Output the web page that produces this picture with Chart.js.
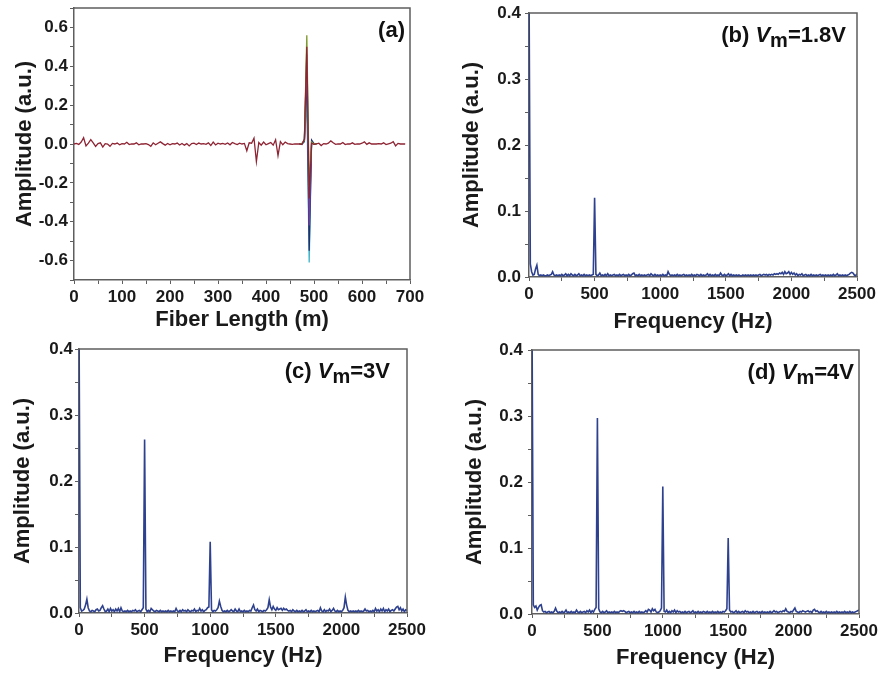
<!DOCTYPE html>
<html>
<head>
<meta charset="utf-8">
<script src="https://cdn.jsdelivr.net/npm/chart.js@4.4.1/dist/chart.umd.min.js"></script>
<style>
  body { margin: 0; background: #fff; }
  .panel { position: absolute; }
  #pa { left: 0; top: 0; width: 441px; height: 336px; }
  #pb { left: 441px; top: 0; width: 441px; height: 336px; }
  #pc { left: 0; top: 336px; width: 441px; height: 337px; }
  #pd { left: 441px; top: 336px; width: 441px; height: 337px; }
</style>
</head>
<body>
<div class="panel" id="pa"><canvas id="chart-a"></canvas></div>
<div class="panel" id="pb"><canvas id="chart-b"></canvas></div>
<div class="panel" id="pc"><canvas id="chart-c"></canvas></div>
<div class="panel" id="pd"><canvas id="chart-d"></canvas></div>
<script>
// (a) OTDR trace, 5 m step from 0 to 690 m
const lengthStep = 5;
const traceMain = [
  0, 0.003, -0.002, 0.01, 0.032, -0.01, 0.004, 0.022, 0.006, -0.012,
  0.002, 0.006, -0.016, 0.002, 0, -0.012, 0.003, 0, 0.005, -0.004,
  0.002, 0, 0.009, -0.003, 0.001, 0, 0.006, -0.004, 0.001, 0,
  0.002, -0.003, -0.012, 0.006, -0.004, 0.004, 0.011, 0.002, -0.006, 0.003,
  -0.004, 0.002, 0, 0.005, -0.005, 0.003, -0.006, 0.002, -0.01, 0.002,
  0.004, -0.003, 0.005, 0, 0.002, -0.002, 0.006, -0.008, 0.01, -0.005,
  0.004, 0, 0.003, -0.002, 0.005, -0.004, 0.008, 0.002, -0.003, 0.004,
  0, 0.003, -0.035, 0.006, 0.004, 0.03, -0.09, 0.008, -0.006, 0.01,
  -0.004, 0.002, 0.008, -0.006, 0.022, -0.06, 0.012, -0.004, 0.01, 0.002,
  0, -0.002, 0.001, 0, 0.001, -0.002, 0.025, 0.5, -0.28, 0.004,
  -0.002, 0.001, 0.004, -0.008, 0.002, 0, 0.004, 0.016, 0.006, -0.002,
  0.001, 0, 0.008, -0.003, 0.001, 0, 0.006, -0.002, 0.001, 0,
  0.004, 0.011, -0.002, 0.006, 0, 0.001, 0, 0.002, 0, 0.006,
  -0.003, 0.001, 0.004, 0.012, -0.01, 0.003, 0, 0.001, 0
];
// other overlaid traces around the reflection peak
const peakLength = [470, 475, 480, 485, 490, 495, 500, 505];
const traceGreen = [0.001, 0.003, 0.02, 0.56, -0.22, 0.01, 0, 0.002];
const tracePurple = [0, 0.002, 0.02, 0.46, -0.42, 0.01, 0, 0.001];
const traceBlue = [0, 0.002, 0.015, 0.38, -0.55, 0.02, 0.002, 0];
const traceCyan = [0, -0.002, 0.01, 0.24, -0.61, 0.015, 0, 0];

// (b)-(d) spectra, 10 Hz step from 0 to 2500 Hz
const freqStep = 10;
const spectrum18V = [
  0.45, 0.02, 0.008, 0.003, 0.004, 0.012, 0.018, 0.004, 0.002, 0.003,
  0.002, 0.003, 0.002, 0.002, 0.003, 0.002, 0.003, 0.004, 0.008, 0.003,
  0.002, 0.003, 0.002, 0.003, 0.002, 0.004, 0.002, 0.003, 0.005, 0.002,
  0.004, 0.002, 0.005, 0.003, 0.002, 0.004, 0.002, 0.003, 0.005, 0.002,
  0.003, 0.002, 0.004, 0.002, 0.003, 0.002, 0.003, 0.002, 0.003, 0.004,
  0.12, 0.004, 0.002, 0.003, 0.006, 0.002, 0.003, 0.002, 0.004, 0.002,
  0.005, 0.002, 0.003, 0.002, 0.003, 0.004, 0.002, 0.003, 0.002, 0.004,
  0.002, 0.003, 0.004, 0.002, 0.003, 0.002, 0.004, 0.002, 0.003, 0.005,
  0.006, 0.002, 0.003, 0.002, 0.004, 0.002, 0.003, 0.002, 0.003, 0.002,
  0.003, 0.004, 0.002, 0.005, 0.003, 0.002, 0.004, 0.002, 0.003, 0.002,
  0.003, 0.002, 0.004, 0.002, 0.003, 0.002, 0.008, 0.004, 0.002, 0.003,
  0.002, 0.003, 0.002, 0.004, 0.002, 0.003, 0.002, 0.003, 0.004, 0.002,
  0.003, 0.002, 0.003, 0.002, 0.004, 0.002, 0.003, 0.002, 0.004, 0.003,
  0.002, 0.004, 0.002, 0.003, 0.002, 0.003, 0.005, 0.002, 0.004, 0.002,
  0.003, 0.002, 0.004, 0.002, 0.003, 0.002, 0.006, 0.003, 0.002, 0.004,
  0.002, 0.003, 0.005, 0.002, 0.004, 0.002, 0.003, 0.002, 0.003, 0.002,
  0.003, 0.002, 0.002, 0.003, 0.002, 0.003, 0.002, 0.003, 0.002, 0.003,
  0.002, 0.003, 0.002, 0.003, 0.002, 0.003, 0.004, 0.002, 0.003, 0.004,
  0.003, 0.004, 0.002, 0.004, 0.003, 0.004, 0.003, 0.005, 0.004, 0.005,
  0.004, 0.006, 0.005, 0.007, 0.004, 0.008, 0.005, 0.006, 0.008, 0.004,
  0.007, 0.004, 0.006, 0.003, 0.005, 0.002, 0.004, 0.003, 0.005, 0.002,
  0.003, 0.004, 0.002, 0.003, 0.002, 0.004, 0.002, 0.003, 0.002, 0.003,
  0.002, 0.003, 0.004, 0.002, 0.003, 0.002, 0.003, 0.002, 0.003, 0.002,
  0.003, 0.002, 0.004, 0.002, 0.003, 0.005, 0.002, 0.003, 0.002, 0.003,
  0.002, 0.003, 0.002, 0.003, 0.004, 0.006, 0.007, 0.006, 0.003, 0.002,
  0.005
];
const spectrum3V = [
  0.45, 0.008, 0.003, 0.004, 0.006, 0.012, 0.021, 0.008, 0.003, 0.002,
  0.004, 0.003, 0.002, 0.005, 0.006, 0.003, 0.004, 0.008, 0.011, 0.006,
  0.002, 0.003, 0.006, 0.002, 0.007, 0.003, 0.005, 0.002, 0.006, 0.003,
  0.007, 0.002, 0.008, 0.003, 0.002, 0.003, 0.002, 0.004, 0.002, 0.003,
  0.002, 0.004, 0.003, 0.005, 0.002, 0.003, 0.004, 0.002, 0.005, 0.008,
  0.263, 0.006, 0.002, 0.004, 0.002, 0.007, 0.005, 0.003, 0.002, 0.004,
  0.003, 0.002, 0.004, 0.002, 0.003, 0.002, 0.003, 0.002, 0.004, 0.002,
  0.003, 0.002, 0.003, 0.002, 0.007, 0.003, 0.002, 0.004, 0.002, 0.005,
  0.003, 0.004, 0.002, 0.005, 0.003, 0.002, 0.004, 0.003, 0.006, 0.002,
  0.004, 0.003, 0.007, 0.003, 0.005, 0.002, 0.004, 0.005, 0.008, 0.009,
  0.108, 0.005, 0.002, 0.004, 0.003, 0.005, 0.008, 0.018, 0.01, 0.004,
  0.002, 0.003, 0.002, 0.004, 0.002, 0.003, 0.005, 0.003, 0.002, 0.006,
  0.003, 0.002, 0.006, 0.002, 0.003, 0.002, 0.004, 0.002, 0.003, 0.002,
  0.004, 0.003, 0.008, 0.012, 0.005, 0.003, 0.006, 0.002, 0.004, 0.003,
  0.002, 0.004, 0.003, 0.005, 0.008, 0.02, 0.009, 0.005, 0.01, 0.006,
  0.004, 0.008, 0.005, 0.006, 0.007, 0.004, 0.007, 0.005, 0.006, 0.004,
  0.003, 0.004, 0.002, 0.005, 0.003, 0.002, 0.004, 0.002, 0.003, 0.002,
  0.004, 0.002, 0.003, 0.005, 0.002, 0.003, 0.002, 0.004, 0.002, 0.003,
  0.002, 0.003, 0.004, 0.002, 0.008, 0.003, 0.002, 0.005, 0.002, 0.004,
  0.003, 0.006, 0.002, 0.004, 0.007, 0.003, 0.002, 0.004, 0.002, 0.003,
  0.002, 0.004, 0.008, 0.024, 0.012, 0.004, 0.002, 0.003, 0.002, 0.003,
  0.002, 0.003, 0.002, 0.004, 0.002, 0.003, 0.002, 0.003, 0.006, 0.003,
  0.004, 0.002, 0.003, 0.002, 0.004, 0.002, 0.007, 0.003, 0.005, 0.002,
  0.006, 0.003, 0.007, 0.002, 0.005, 0.003, 0.006, 0.002, 0.004, 0.005,
  0.003, 0.006, 0.009, 0.01, 0.005, 0.008, 0.003, 0.006, 0.002, 0.005,
  0.004
];
const spectrum4V = [
  0.45, 0.014, 0.01, 0.012, 0.006, 0.01, 0.013, 0.014, 0.005, 0.003,
  0.004, 0.002, 0.003, 0.004, 0.002, 0.003, 0.002, 0.004, 0.009, 0.004,
  0.002, 0.003, 0.002, 0.004, 0.002, 0.003, 0.006, 0.002, 0.003, 0.002,
  0.004, 0.002, 0.003, 0.002, 0.006, 0.003, 0.002, 0.004, 0.002, 0.003,
  0.004, 0.002, 0.005, 0.003, 0.006, 0.002, 0.005, 0.003, 0.007, 0.01,
  0.297, 0.008, 0.003, 0.002, 0.004, 0.002, 0.003, 0.005, 0.002, 0.003,
  0.002, 0.003, 0.002, 0.004, 0.002, 0.003, 0.002, 0.004, 0.005, 0.004,
  0.005, 0.004, 0.002, 0.003, 0.004, 0.002, 0.003, 0.002, 0.004, 0.002,
  0.003, 0.002, 0.004, 0.002, 0.003, 0.002, 0.003, 0.005, 0.003, 0.007,
  0.006, 0.003, 0.008, 0.005, 0.007, 0.003, 0.002, 0.003, 0.005, 0.009,
  0.193, 0.004, 0.003, 0.006, 0.002, 0.004, 0.002, 0.005, 0.003, 0.006,
  0.002, 0.005, 0.003, 0.004, 0.002, 0.003, 0.002, 0.004, 0.002, 0.003,
  0.004, 0.002, 0.003, 0.005, 0.002, 0.003, 0.002, 0.004, 0.002, 0.003,
  0.002, 0.004, 0.003, 0.002, 0.004, 0.002, 0.003, 0.002, 0.004, 0.002,
  0.003, 0.002, 0.004, 0.002, 0.003, 0.002, 0.004, 0.003, 0.005, 0.008,
  0.115, 0.006, 0.003, 0.004, 0.002, 0.003, 0.005, 0.002, 0.004, 0.002,
  0.003, 0.004, 0.002, 0.005, 0.003, 0.004, 0.002, 0.003, 0.002, 0.004,
  0.002, 0.003, 0.004, 0.002, 0.003, 0.002, 0.004, 0.002, 0.003, 0.002,
  0.003, 0.002, 0.004, 0.002, 0.003, 0.005, 0.003, 0.004, 0.002, 0.003,
  0.004, 0.003, 0.005, 0.004, 0.008, 0.004, 0.003, 0.002, 0.004, 0.003,
  0.006, 0.009, 0.004, 0.003, 0.002, 0.004, 0.003, 0.005, 0.004, 0.003,
  0.004, 0.005, 0.003, 0.004, 0.002, 0.006, 0.007, 0.004, 0.005, 0.003,
  0.002, 0.004, 0.002, 0.003, 0.002, 0.004, 0.002, 0.003, 0.002, 0.003,
  0.002, 0.003, 0.002, 0.004, 0.002, 0.003, 0.002, 0.003, 0.002, 0.004,
  0.002, 0.003, 0.002, 0.004, 0.002, 0.003, 0.002, 0.003, 0.004, 0.005,
  0.006
];

const FONT = '"Liberation Sans", Arial, sans-serif';
const AXIS_GRAY = '#5e5e5e';
const SPEC_BLUE = '#2e418f';
const TICK_SIZE = 17;
const TITLE_SIZE = 22;

Chart.defaults.font.family = FONT;
Chart.defaults.color = '#1a1a1a';
Chart.defaults.animation = false;

function toPoints(xs, ys) {
  return ys.map((y, i) => ({ x: xs[i], y: y }));
}
function stepPoints(step, ys) {
  return ys.map((y, i) => ({ x: i * step, y: y }));
}

// top and right border of the frame + the panel label
const framePlugin = {
  id: 'frame',
  afterDraw(chart, args, opts) {
    const { ctx, chartArea: a } = chart;
    ctx.save();
    ctx.strokeStyle = AXIS_GRAY;
    ctx.lineWidth = 1.5;
    ctx.beginPath();
    ctx.moveTo(a.left, a.top);
    ctx.lineTo(a.right, a.top);
    ctx.lineTo(a.right, a.bottom);
    ctx.stroke();

    // label pieces, right aligned
    const parts = opts.parts || [];
    let total = 0;
    parts.forEach(p => {
      ctx.font = p.font;
      p.w = ctx.measureText(p.t).width;
      total += p.w;
    });
    let x = a.right - opts.padRight - total;
    ctx.fillStyle = '#111';
    ctx.textBaseline = 'alphabetic';
    parts.forEach(p => {
      ctx.font = p.font;
      ctx.fillText(p.t, x, a.top + opts.baseline + (p.dy || 0));
      x += p.w;
    });
    ctx.restore();
  }
};

function labelParts(tag, value) {
  return [
    { t: tag + ' ', font: 'bold 22px ' + FONT },
    { t: 'V', font: 'italic bold 22px ' + FONT },
    { t: 'm', font: 'bold 20px ' + FONT, dy: 5 },
    { t: '=' + value, font: 'bold 22px ' + FONT }
  ];
}

function axisBase(title, size, titlePad) {
  return {
    type: 'linear',
    border: { display: true, color: AXIS_GRAY, width: 1.5 },
    grid: { drawOnChartArea: false, drawTicks: true, tickLength: 4, color: AXIS_GRAY, tickWidth: 1 },
    title: { display: true, text: title, font: { size: TITLE_SIZE, weight: 'bold' }, padding: titlePad, color: '#1a1a1a' },
    afterFit(scale) {
      // fixed axis sizes so the plot areas sit where the reference has them
      if (scale.isHorizontal()) {
        scale.height = size;
        scale.paddingLeft = 0;
        scale.paddingRight = 0;
      } else {
        scale.width = size;
        scale.paddingTop = 0;
        scale.paddingBottom = 0;
      }
    }
  };
}

function fmtY(v, major) {
  const k = Math.round(v / major * 1000) / 1000;
  if (Math.abs(k - Math.round(k)) > 1e-6) return '';
  if (Math.abs(v) < 1e-9) return '0.0';
  return v.toFixed(1);
}

// panel (a)
const scaleAX = axisBase('Fiber Length (m)', 56, { top: 0, bottom: 3 });
scaleAX.min = 0; scaleAX.max = 700;
scaleAX.ticks = { stepSize: 50, autoSkip: false, maxRotation: 0, padding: 3,
  font: { size: TICK_SIZE, weight: 'bold' },
  callback: v => (v % 100 === 0 ? v : '') };
const scaleAY = axisBase('Amplitude (a.u.)', 74, { top: 12, bottom: 0 });
scaleAY.min = -0.7; scaleAY.max = 0.7;
scaleAY.ticks = { stepSize: 0.1, autoSkip: false, padding: 2,
  font: { size: TICK_SIZE, weight: 'bold' },
  callback: v => fmtY(v, 0.2) };

new Chart(document.getElementById('chart-a'), {
  type: 'line',
  data: {
    datasets: [
      { data: stepPoints(lengthStep, traceMain), borderColor: '#8e2433', borderWidth: 1.3 },
      { data: toPoints(peakLength, traceGreen), borderColor: '#7f9a2e', borderWidth: 1.3 },
      { data: toPoints(peakLength, tracePurple), borderColor: '#7040a0', borderWidth: 1.3 },
      { data: toPoints(peakLength, traceBlue), borderColor: '#22306e', borderWidth: 1.3 },
      { data: toPoints(peakLength, traceCyan), borderColor: '#3fb4cc', borderWidth: 1.3 }
    ]
  },
  options: {
    responsive: true,
    maintainAspectRatio: false,
    parsing: false,
    layout: { padding: { left: 0, top: 8, right: 31, bottom: 0 } },
    elements: { point: { radius: 0 }, line: { tension: 0 } },
    plugins: {
      legend: { display: false },
      tooltip: { enabled: false },
      frame: { parts: [{ t: '(a)', font: 'bold 22px ' + FONT }], padRight: 5, baseline: 29 }
    },
    scales: { x: scaleAX, y: scaleAY }
  },
  plugins: [framePlugin]
});

// panels (b)-(d)
function spectrumChart(canvasId, values, box, label) {
  const sx = axisBase('Frequency (Hz)', box.xh, { top: 0, bottom: box.xt });
  sx.min = 0; sx.max = 2500;
  sx.ticks = { stepSize: 250, autoSkip: false, maxRotation: 0, padding: 3,
    font: { size: TICK_SIZE, weight: 'bold' },
    callback: v => (v % 500 === 0 ? v : '') };
  const sy = axisBase('Amplitude (a.u.)', box.yw, { top: box.yt, bottom: 0 });
  sy.min = 0; sy.max = 0.4;
  sy.ticks = { stepSize: 0.05, autoSkip: false, padding: box.yp,
    font: { size: TICK_SIZE, weight: 'bold' },
    callback: v => fmtY(v, 0.1) };

  return new Chart(document.getElementById(canvasId), {
    type: 'line',
    data: {
      datasets: [{ data: stepPoints(freqStep, values), borderColor: SPEC_BLUE, borderWidth: 1.6 }]
    },
    options: {
      responsive: true,
      maintainAspectRatio: false,
      parsing: false,
      layout: { padding: { left: 0, top: box.top, right: box.right, bottom: 0 } },
      elements: { point: { radius: 0 }, line: { tension: 0 } },
      plugins: {
        legend: { display: false },
        tooltip: { enabled: false },
        frame: { parts: label, padRight: box.lr, baseline: 29 }
      },
      scales: { x: sx, y: sy }
    },
    plugins: [framePlugin]
  });
}

spectrumChart('chart-b', spectrum18V,
  { xh: 59, xt: 1, yw: 88, yt: 18, yp: 4, top: 13, right: 25, lr: 11 },
  labelParts('(b)', '1.8V'));
spectrumChart('chart-c', spectrum3V,
  { xh: 60, xt: 4, yw: 79, yt: 10, yp: 2, top: 13, right: 34, lr: 17 },
  labelParts('(c)', '3V'));
spectrumChart('chart-d', spectrum4V,
  { xh: 59, xt: 2, yw: 91, yt: 21, yp: 5, top: 14, right: 23, lr: 5 },
  labelParts('(d)', '4V'));
</script>
</body>
</html>
